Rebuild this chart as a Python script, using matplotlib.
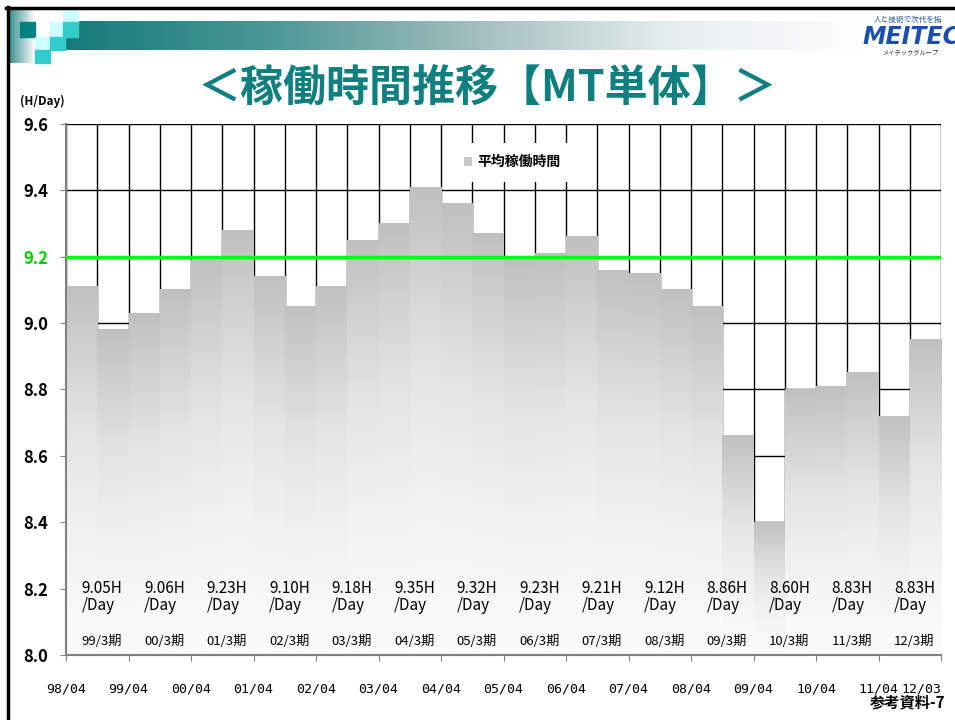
import numpy as np
import matplotlib.pyplot as plt
from matplotlib.colors import LinearSegmentedColormap
from matplotlib.patches import Rectangle, Patch

plt.rcParams['font.family'] = ['Noto Sans CJK JP', 'DejaVu Sans']

# half-year average working hours (bars), 98/04 .. 11/10
hours = [9.11, 8.98, 9.03, 9.10, 9.19, 9.28, 9.14, 9.05, 9.11, 9.25,
         9.30, 9.41, 9.36, 9.27, 9.20, 9.21, 9.26, 9.16, 9.15, 9.10,
         9.05, 8.66, 8.40, 8.80, 8.81, 8.85, 8.72, 8.95]
# fiscal-year averages printed under each pair of bars
fy_values = ["9.05", "9.06", "9.23", "9.10", "9.18", "9.35", "9.32",
             "9.23", "9.21", "9.12", "8.86", "8.60", "8.83", "8.83"]
fy_labels = ["99/3期", "00/3期", "01/3期", "02/3期", "03/3期", "04/3期", "05/3期",
             "06/3期", "07/3期", "08/3期", "09/3期", "10/3期", "11/3期", "12/3期"]
month_labels = ["98/04", "99/04", "00/04", "01/04", "02/04", "03/04", "04/04",
                "05/04", "06/04", "07/04", "08/04", "09/04", "10/04", "11/04", "12/03"]
target = 9.2
y_min, y_max = 8.0, 9.6

TEAL = '#0f7f7f'

fig = plt.figure(figsize=(9.55, 7.2), dpi=100)

# ---- page decoration (pixel coordinates) ----
bg = fig.add_axes([0, 0, 1, 1])
bg.set_xlim(0, 955)
bg.set_ylim(720, 0)
bg.axis('off')

ramp = np.linspace(0, 1, 256).reshape(1, -1)
band = LinearSegmentedColormap.from_list('band', ['#157a7a', '#4a9696', '#9fbcbc', '#e6eded', '#ffffff'])
bg.imshow(ramp, extent=[63, 870, 50, 21], cmap=band, aspect='auto', zorder=1)
fade = LinearSegmentedColormap.from_list('fade', ['#2e8a8a', '#ffffff'])
bg.imshow(ramp, extent=[8, 34, 63, 10], cmap=fade, aspect='auto', zorder=1)
squares = [(20, 22, '#008080'), (35, 37, '#ccffff'), (35, 50, '#33cccc'),
           (50, 22, '#ccffff'), (50, 37, '#33cccc'), (63, 10, '#ccffff'), (63, 22, '#33cccc')]
for sx, sy, c in squares:
    bg.add_patch(Rectangle((sx, sy), 15, 13 if sy != 22 else 15, color=c, zorder=2))
bg.plot([6, 955], [8, 8], color='black', lw=2.5, zorder=3)
bg.plot([7.5, 7.5], [7, 720], color='black', lw=2.5, zorder=3)

bg.text(487, 88, '＜稼働時間推移【MT単体】＞', color=TEAL, fontsize=31,
        fontweight='bold', ha='center', va='center')
bg.text(908, 20, '人と技術で次代を拓', color='#1a4fb0', fontsize=5.5,
        style='italic', ha='center', va='center')
bg.text(862, 37, 'MEITEC', color='#1a4fb0', fontsize=17, fontweight='bold',
        style='italic', ha='left', va='center', family='DejaVu Sans')
bg.text(910, 52, 'メイテックグループ', color='#333333', fontsize=4.5,
        ha='center', va='center')
bg.text(20, 101, '(H/Day)', fontsize=8.5, fontweight='bold', ha='left', va='center')
bg.text(945, 702, '参考資料-7', fontsize=11, fontweight='bold', ha='right', va='center')

# ---- chart ----
ax = fig.add_axes([66 / 955, 65 / 720, 875 / 955, 531 / 720])
n = len(hours)
x = np.arange(n)

bars = ax.bar(x, np.array(hours) - y_min, bottom=y_min, width=1.0, align='edge',
              color='none', edgecolor='none', zorder=2)
grad = np.linspace(0, 1, 256).reshape(-1, 1) ** 1.4
gray = LinearSegmentedColormap.from_list('bar', ['#fbfbfb', '#e4e4e4', '#c0c0c0'])
for b in bars:
    x0, w, top = b.get_x(), b.get_width(), b.get_y() + b.get_height()
    ax.imshow(grad, extent=[x0, x0 + w, y_min, top], origin='lower',
              cmap=gray, vmin=0, vmax=1, aspect='auto', zorder=2)

yt = np.round(np.arange(y_min, y_max + 0.01, 0.2), 1)
ax.vlines(np.arange(n + 1), y_min, y_max, color='black', lw=1, zorder=1)
ax.hlines(yt[1:], 0, n, color='black', lw=1, zorder=1)
ax.axhline(target, color='#00ff00', lw=2.5, zorder=4)

for k, (v, lab) in enumerate(zip(fy_values, fy_labels)):
    cx = 2 * k + 1.15
    ax.text(cx, 8.175, f'{v}H\n/Day', fontsize=11, ha='center', va='center',
            multialignment='left', linespacing=1.05, zorder=5)
    ax.text(cx, 8.04, lab, fontsize=9.5, ha='center', va='center', zorder=5)

ax.set_xlim(0, n)
ax.set_ylim(y_min, y_max)
ax.set_yticks(yt)
ax.set_yticklabels([f'{v:.1f}' for v in yt], fontsize=12, fontweight='bold')
for t in ax.get_yticklabels():
    if t.get_text() == f'{target:.1f}':
        t.set_color('#00cc00')
ax.tick_params(axis='y', length=4, color='#808080', pad=9)

xt = list(range(0, n, 2)) + [n]
ax.set_xticks(xt)
ax.set_xticklabels(month_labels, fontsize=9.5, family='DejaVu Sans Mono')
ax.get_xticklabels()[-1].set_ha('right')
ax.set_xticks(np.arange(0, n + 0.1, 0.5), minor=True)
ax.tick_params(axis='x', which='major', direction='out', length=4, color='#808080', pad=16)
ax.tick_params(axis='x', which='minor', direction='in', length=3, color='#808080')

for s in ['top', 'right']:
    ax.spines[s].set_visible(False)
for s in ['left', 'bottom']:
    ax.spines[s].set_color('#808080')
    ax.spines[s].set_linewidth(1.5)

leg = ax.legend(handles=[Patch(facecolor='#c8c8c8', edgecolor='none', label='平均稼働時間')],
                loc='upper center', bbox_to_anchor=(0.51, 0.965), frameon=True,
                prop={'size': 10, 'weight': 'bold'}, handlelength=0.6, handleheight=0.6,
                handletextpad=0.4, borderpad=0.9, borderaxespad=0)
leg.get_frame().set_facecolor('white')
leg.get_frame().set_edgecolor('none')
leg.get_frame().set_alpha(1)
leg.get_frame().set_boxstyle('square', pad=0)
leg.set_zorder(6)

fig.savefig('out.png', dpi=100)
